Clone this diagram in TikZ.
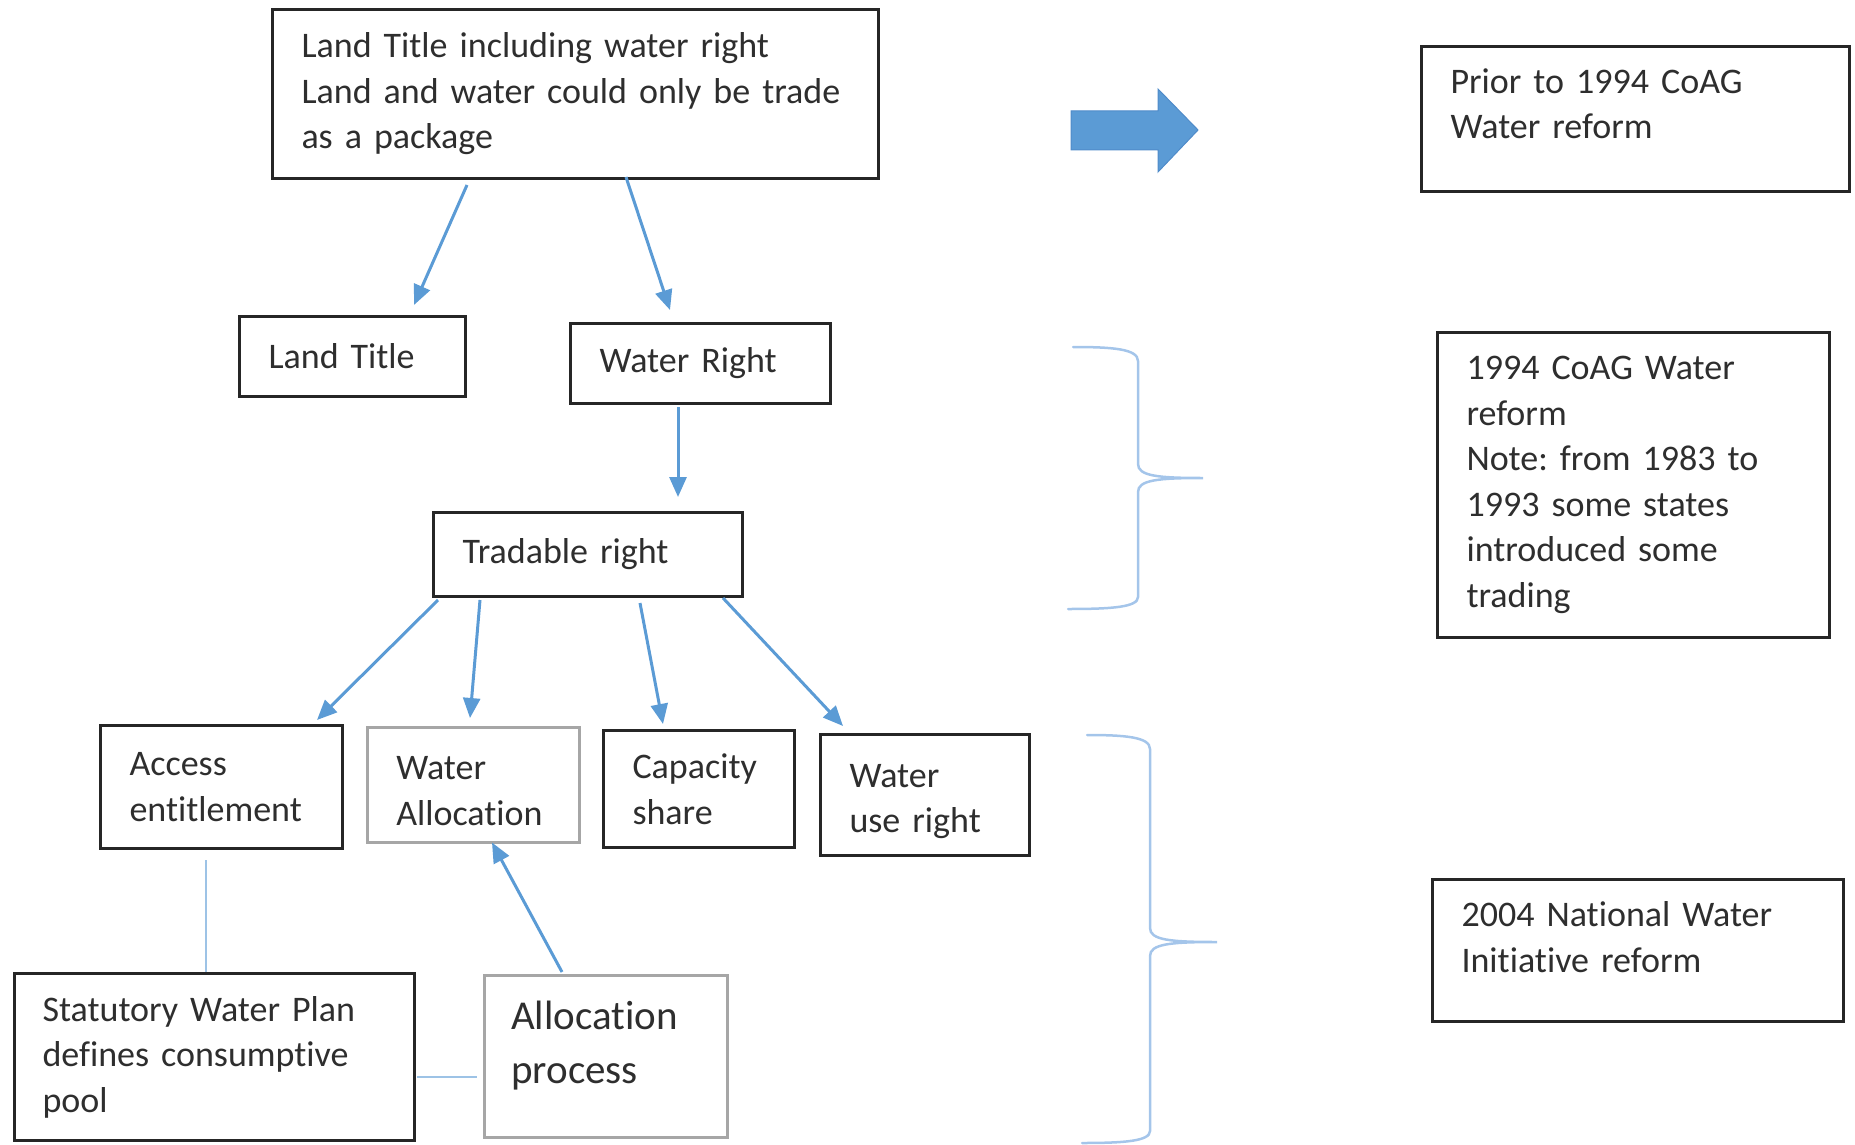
\documentclass[tikz,border=0pt]{standalone}
\usepackage{fontspec}
\setmainfont{Carlito}[Ligatures=NoCommon]
\usetikzlibrary{arrows.meta}
\hyphenpenalty=10000
\frenchspacing

\begin{document}
\begin{tikzpicture}[x=1pt, y=-1pt,
    box/.style={draw=borderColour, line width=3pt, anchor=north west, align=left,
        inner xsep=29pt, inner ysep=0pt, text=textColour,
        font=\fontsize{36}{45.5}\selectfont},
    greybox/.style={box, draw=greyBorder, line width=2.5pt},
    link/.style={draw=linkColour, line width=3pt, -{Triangle[length=20pt,width=17pt]}},
    plain/.style={draw=plainColour, line width=2pt},
    brace/.style={draw=braceColour, line width=2.5pt, line cap=round}]

    \definecolor{borderColour}{HTML}{262626}
    \definecolor{greyBorder}{HTML}{A6A6A6}
    \definecolor{textColour}{HTML}{2E2E2E}
    \definecolor{linkColour}{HTML}{5B9BD5}
    \definecolor{plainColour}{HTML}{9DC3E6}
    \definecolor{braceColour}{HTML}{A4C5EA}
    \definecolor{arrowEdge}{HTML}{4F8BC9}

    \useasboundingbox (0,0) rectangle (1855,1145);

    % Boxes of the tree
    \node[box, text width=548pt, minimum height=169pt] (title) at (271,8)
        {Land Title including water right\\Land and water could only be trade\\as a package};
    \node[box, text width=168pt, minimum height=80pt] (land) at (238,315) {Land Title};
    \node[box, text width=202pt, minimum height=80pt] (water) at (569,322) {Water Right};
    \node[box, text width=251pt, minimum height=84pt] (trad) at (432,511) {Tradable right};
    \node[box, text width=184pt, minimum height=123pt] (access) at (99,724) {Access\\entitlement};
    \node[greybox, text width=154pt, minimum height=115pt] (walloc) at (366,726)
        {\rule{0pt}{36pt}Water\\Allocation};
    \node[box, text width=133pt, minimum height=117pt] (cap) at (602,729) {Capacity\\share};
    \node[box, text width=151pt, minimum height=121pt] (wuse) at (819,733)
        {\rule{0pt}{36pt}Water\\use right};
    \node[box, text width=344pt, minimum height=167pt, inner xsep=28pt] (plan) at (13,972)
        {Statutory Water Plan\\defines consumptive\\pool};
    \node[greybox, text width=189pt, minimum height=162pt, inner xsep=27pt,
        font=\fontsize{41}{54}\selectfont] (aproc) at (483,974)
        {Allocation\\process\rule[-28pt]{0pt}{0pt}};

    % Boxes of the reform stages
    \node[box, text width=370pt, minimum height=145pt] (prior) at (1420,45)
        {Prior to 1994 CoAG\\Water reform\rule[-31pt]{0pt}{0pt}};
    \node[box, text width=334pt, minimum height=305pt] (coag) at (1436,331)
        {1994 CoAG Water\\reform\\Note: from 1983 to\\1993 some states\\introduced some\\trading};
    \node[box, text width=353pt, minimum height=142pt] (nwi) at (1431,878)
        {2004 National Water\\Initiative reform\rule[-27pt]{0pt}{0pt}};

    % Links
    \draw[link] ([shift={(196,5)}]title.south west) -- ([shift={(176,-10)}]land.north west);
    \draw[link] ([shift={(355,-3)}]title.south west) -- ([shift={(101,-12)}]water.north west);
    \draw[link] ([shift={(109,2)}]water.south west) -- ([shift={(246,-14)}]trad.north west);
    \foreach \sx/\sy/\dest/\ex/\ey in {6/2/access/218/-4, 48/2/walloc/104/-8,
                                       208/5/cap/61/-5, 291/0/wuse/24/-7}
        \draw[link] ([shift={(\sx,\sy)}]trad.south west) -- ([shift={(\ex,\ey)}]\dest.north west);
    \draw[link] ([shift={(79,-2)}]aproc.north west) -- ([shift={(126,-1)}]walloc.south west);

    % Plain lines
    \draw[plain] ([shift={(107,10)}]access.south west) -- ([shift={(193,0)}]plan.north west);
    \draw[plain] ([shift={(1,105)}]plan.north east) -- ([shift={(-6,103)}]aproc.north west);

    % Block arrow
    \filldraw[fill=linkColour, draw=arrowEdge, line width=1pt]
        (1071,111) -- (1158,111) -- (1158,89) -- (1198,130) -- (1158,172) -- (1158,150) -- (1071,150) -- cycle;

    % Braces: left end x, spine x, tip x, top y, tip y, bottom y
    \foreach \lx/\sx/\tx/\ty/\my/\by in {1073/1138/1203/347/478/609, 1087/1150/1217/735/942/1143}
        \draw[brace] (\lx,\ty) .. controls (\sx-25,\ty) and (\sx,\ty+2) .. (\sx,\ty+14)
            -- (\sx,\my-14) .. controls (\sx,\my-2) and (\sx+20,\my) .. (\tx,\my)
            .. controls (\sx+20,\my) and (\sx,\my+2) .. (\sx,\my+14)
            -- (\sx,\by-12) .. controls (\sx,\by-2) and (\sx-25,\by) .. (\lx-5,\by);

\end{tikzpicture}
\end{document}
